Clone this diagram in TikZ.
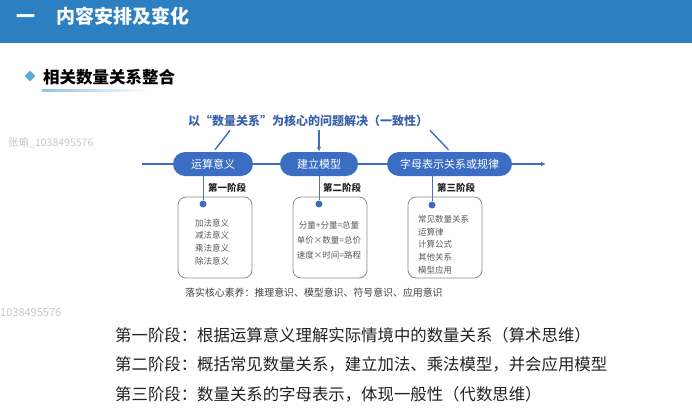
\documentclass[tikz,border=0pt]{standalone}
\usepackage{fontspec}
\setmainfont{Noto Sans CJK SC}
\usetikzlibrary{arrows.meta,positioning,shapes.geometric,backgrounds,calc}
\definecolor{barblue}{HTML}{2C7FC1}
\definecolor{nodeblue}{HTML}{3B6EC2}
\definecolor{headtext}{HTML}{3A62AC}
\definecolor{markblue}{HTML}{5DAAD8}
\definecolor{boxline}{HTML}{8A8A8A}
\definecolor{bodytext}{HTML}{222222}
\tikzset{
  stage/.style={fill=nodeblue, text=white, rounded corners=12pt, minimum height=24pt,
    inner sep=0pt, font=\fontsize{11}{13}\selectfont},
  phase/.style={anchor=west, inner sep=1pt, font=\bfseries\fontsize{9.5}{11}\selectfont, text=black!85},
  itembox/.style={draw=boxline, line width=0.8pt, rounded corners=8pt,
    minimum width=74pt, minimum height=81pt},
  items/.style={align=center, inner sep=0pt, text=black!65, font=\fontsize{8.5}{12.7}\selectfont},
  dot/.style={circle, fill=nodeblue, inner sep=0pt, minimum size=7pt},
  link/.style={draw=nodeblue, line width=1.4pt},
  arr/.style={link, -{Latex[length=5pt,width=4.5pt]}},
  stem/.style={draw=nodeblue!70!gray, line width=0.8pt},
  summary/.style={anchor=west, inner sep=0pt, text=bodytext, font=\fontsize{16.4}{18}\selectfont},
  watermark/.style={anchor=west, inner sep=0pt, text=black!22, font=\fontsize{10.5}{12}\selectfont}
}

\begin{document}
\begin{tikzpicture}[x=1pt, y=-1pt]
  \useasboundingbox (0,0) rectangle (692,418);

  % header
  \fill[barblue] (0,0) rectangle (692,43);
  \node[anchor=west, inner sep=0pt, text=white, font=\bfseries\fontsize{19}{22}\selectfont] (sec) at (16,16) {一\hspace{1.1em}内容安排及变化};
  \node[diamond, fill=markblue, inner sep=0pt, minimum size=11pt] (dia) at (30,76) {};
  \node[anchor=west, inner sep=0pt, font=\bfseries\fontsize{16.5}{18}\selectfont] (sub) at (43,77) {相关数量关系整合};
  \shade[left color=markblue!70, right color=white] (42,89.5) rectangle (150,91.5);

  \node[watermark] (wm1) at (8,143) {张瑜\_1038495576};
  \node[watermark, font=\fontsize{11}{12}\selectfont] (wm2) at (0,313) {1038495576};

  % main line
  \node[text=headtext, font=\bfseries\fontsize{12}{14}\selectfont] (title) at (308,121) {以“数量关系”为核心的问题解决（一致性）};
  \node[stage, minimum width=80pt] (op) at (213,164) {运算意义};
  \node[stage, minimum width=78pt] (mod) at (319,164) {建立模型};
  \node[stage, minimum width=125pt] (let) at (449.5,164) {字母表示关系或规律};
  \coordinate (lineL) at (142,164);
  \coordinate (lineR) at (546,164);
  \draw[link] (lineL) -- (op.west);
  \draw[link] (op.east) -- (mod.west);
  \draw[link] (mod.east) -- (let.west);
  \draw[arr] (let.east) -- (lineR);
  \draw[link] ($(title.south)+(-78,0)$) -- ([xshift=2pt,yshift=2pt]op.north);
  \draw[arr] (title.south -| mod.north) -- (mod.north);
  \draw[link] ($(title.south)+(122,0)$) -- ([xshift=-1pt,yshift=2pt]let.north);

  % stages
  \node[itembox] (b1) at (215,237.5) {};
  \node[itembox] (b2) at (330,237.5) {};
  \node[itembox] (b3) at (445,237.5) {};
  \node[dot] (d1) at (203,204) {};
  \node[dot] (d2) at (319,204) {};
  \node[dot] (d3) at (432,205) {};
  \draw[stem] (op.south -| d1) -- (d1);
  \draw[stem] (mod.south -| d2) -- (d2);
  \draw[stem] (let.south -| d3) -- (d3);
  \node[phase] (p1) at (207,188) {第一阶段};
  \node[phase] (p2) at (322,188) {第二阶段};
  \node[phase] (p3) at (436,188) {第三阶段};

  \node[items] (t1) at (212,242) {加法意义\\减法意义\\乘法意义\\除法意义};
  \node[items, font=\fontsize{8.5}{15}\selectfont] (t2) at (329,240) {分量+分量=总量\\单价×数量=总价\\速度×时间=路程};
  \node[items, align=left, anchor=west] (t3) at (418,244.5) {常见数量关系\\运算律\\计算公式\\其他关系\\模型应用};

  \node[anchor=west, inner sep=0pt, text=black!75, font=\fontsize{9.9}{12}\selectfont] (note) at (185,293) {落实核心素养：推理意识、模型意识、符号意识、应用意识};

  % summary
  \node[summary] (s1) at (115,335) {第一阶段：根据运算意义理解实际情境中的数量关系（算术思维）};
  \node[summary] (s2) at (115,364) {第二阶段：概括常见数量关系，建立加法、乘法模型，并会应用模型};
  \node[summary] (s3) at (115,394) {第三阶段：数量关系的字母表示，体现一般性（代数思维）};
\end{tikzpicture}
\end{document}
